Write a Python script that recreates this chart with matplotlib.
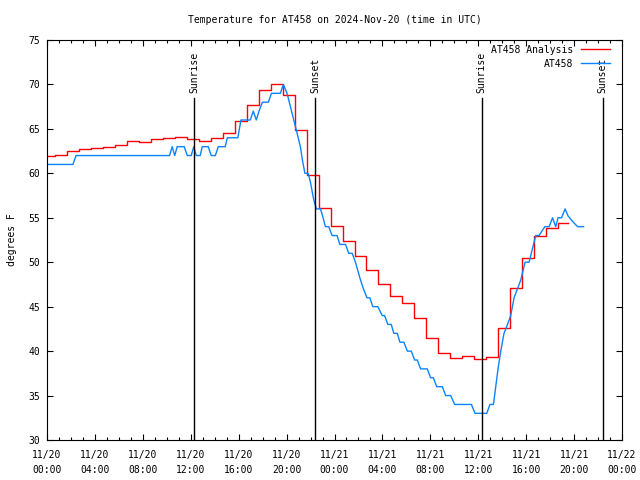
import numpy as np
import matplotlib
matplotlib.use('Agg')
import matplotlib.pyplot as plt
from matplotlib.ticker import MultipleLocator

# hours since 2024-11-20 00:00 UTC
red_t = [0.0, 0.67, 1.67, 2.67, 3.67, 4.67, 5.67, 6.67, 7.67, 8.67, 9.67, 10.67,
         11.67, 12.67, 13.67, 14.67, 15.67, 16.67, 17.67, 18.67, 19.67, 20.67, 21.67,
         22.67, 23.67, 24.67, 25.67, 26.67, 27.67, 28.67, 29.67, 30.67, 31.67, 32.67,
         33.67, 34.67, 35.67, 36.67, 37.67, 38.67, 39.67, 40.67, 41.67, 42.67, 43.5]
red_v = [61.9, 62.1, 62.5, 62.7, 62.9, 63.0, 63.15, 63.6, 63.5, 63.85, 63.95, 64.05,
         63.85, 63.6, 63.95, 64.5, 65.9, 67.7, 69.4, 70.1, 68.8, 64.9, 59.8,
         56.06, 54.1, 52.4, 50.7, 49.1, 47.6, 46.2, 45.45, 43.7, 41.44, 39.75,
         39.2, 39.45, 39.1, 39.3, 42.64, 47.06, 50.44, 52.95, 53.9, 54.4, 54.4]

blue_t = [0.0, 2.17, 2.42, 10.23, 10.45, 10.66, 10.87, 11.45, 11.71, 12.04, 12.25, 12.46,
          12.79, 12.96, 13.46, 13.71, 14.05, 14.3, 14.88, 15.05, 15.93, 16.19, 16.97,
          17.22, 17.47, 17.7, 17.98, 18.48, 18.73, 19.48, 19.73, 20.04, 20.32, 20.6,
          20.88, 21.15, 21.32, 21.53, 21.8, 21.99, 22.27, 22.49, 22.83, 23.05, 23.24,
          23.52, 23.8, 24.22, 24.44, 24.92, 25.19, 25.48, 25.75, 26.17, 26.42, 26.71,
          26.95, 27.2, 27.62, 27.98, 28.18, 28.45, 28.74, 28.95, 29.24, 29.46, 29.79,
          30.08, 30.41, 30.69, 30.91, 31.19, 31.75, 32.02, 32.25, 32.53, 33.0, 33.28,
          33.7, 34.03, 35.43, 35.73, 36.71, 36.98, 37.27, 37.46, 37.65, 37.88, 38.15,
          38.44, 38.71, 38.99, 39.27, 39.55, 39.91, 40.24, 40.52, 40.8, 41.08, 41.36,
          41.56, 41.92, 42.2, 42.47, 42.66, 42.95, 43.25, 43.5, 43.87, 44.29, 44.79]
blue_v = [61, 61, 62, 62, 63, 62, 63, 63, 62, 62, 63, 62,
          62, 63, 63, 62, 62, 63, 63, 64, 64, 66, 66,
          67, 66, 67, 68, 68, 69, 69, 70, 69, 67.5, 66,
          64.5, 63, 61.5, 60, 60, 59, 57, 56, 56, 55, 54,
          54, 53, 53, 52, 52, 51, 51, 50, 48, 47, 46,
          46, 45, 45, 44, 44, 43, 43, 42, 42, 41, 41,
          40, 40, 39, 39, 38, 38, 37, 37, 36, 36, 35,
          35, 34, 34, 33, 33, 34, 34, 36, 38, 40, 42,
          43, 44, 46, 47, 48, 50, 50, 51.5, 53, 53, 53.6,
          54, 54, 55, 54, 55, 55, 56, 55.2, 54.6, 54, 54]

sun_t = [12.29, 22.4, 36.29, 46.4]
sun_lbl = ['Sunrise', 'Sunset', 'Sunrise', 'Sunset']

xtick_pos = [0, 4, 8, 12, 16, 20, 24, 28, 32, 36, 40, 44, 48]
xtick_lbl = ['11/20\n00:00', '11/20\n04:00', '11/20\n08:00', '11/20\n12:00',
             '11/20\n16:00', '11/20\n20:00', '11/21\n00:00', '11/21\n04:00',
             '11/21\n08:00', '11/21\n12:00', '11/21\n16:00', '11/21\n20:00',
             '11/22\n00:00']

plt.rcParams['font.family'] = ['DejaVu Sans Mono']
plt.rcParams['font.size'] = 7

fig = plt.figure(figsize=(6.4, 4.8), dpi=100)
ax = fig.add_axes([47/640, 1-440/480, 575/640, 400/480])

ax.plot(red_t, red_v, color='#ff0000', lw=1, drawstyle='steps-post', label='AT458 Analysis')
ax.plot(blue_t, blue_v, color='#0a84ff', lw=1, label='AT458')

for t, s in zip(sun_t, sun_lbl):
    ax.plot([t, t], [30, 68.5], color='black', lw=1)
    ax.text(t, 69.0, s, rotation=90, ha='center', va='bottom', fontsize=7)

ax.set_xlim(0, 48)
ax.set_ylim(30, 75)
ax.set_xticks(xtick_pos)
ax.set_xticklabels(xtick_lbl, linespacing=1.6)
ax.xaxis.set_minor_locator(MultipleLocator(1))
ax.yaxis.set_major_locator(MultipleLocator(5))
ax.tick_params(which='both', direction='in', top=True, right=True, width=0.8)
ax.tick_params(which='major', length=4, pad=5)
ax.tick_params(axis='x', which='major', pad=7)
ax.tick_params(which='minor', length=2)
for sp in ax.spines.values():
    sp.set_linewidth(0.8)

ax.set_ylabel('degrees F', labelpad=8)
ax.set_title('Temperature for AT458 on 2024-Nov-20 (time in UTC)', fontsize=7, pad=12)

ax.legend(loc='upper right', bbox_to_anchor=(0.986, 0.998), frameon=False,
          markerfirst=False, handlelength=3.0, borderaxespad=0, borderpad=0.4,
          labelspacing=0.4, handletextpad=0.8)

fig.savefig('out.png', dpi=100)
